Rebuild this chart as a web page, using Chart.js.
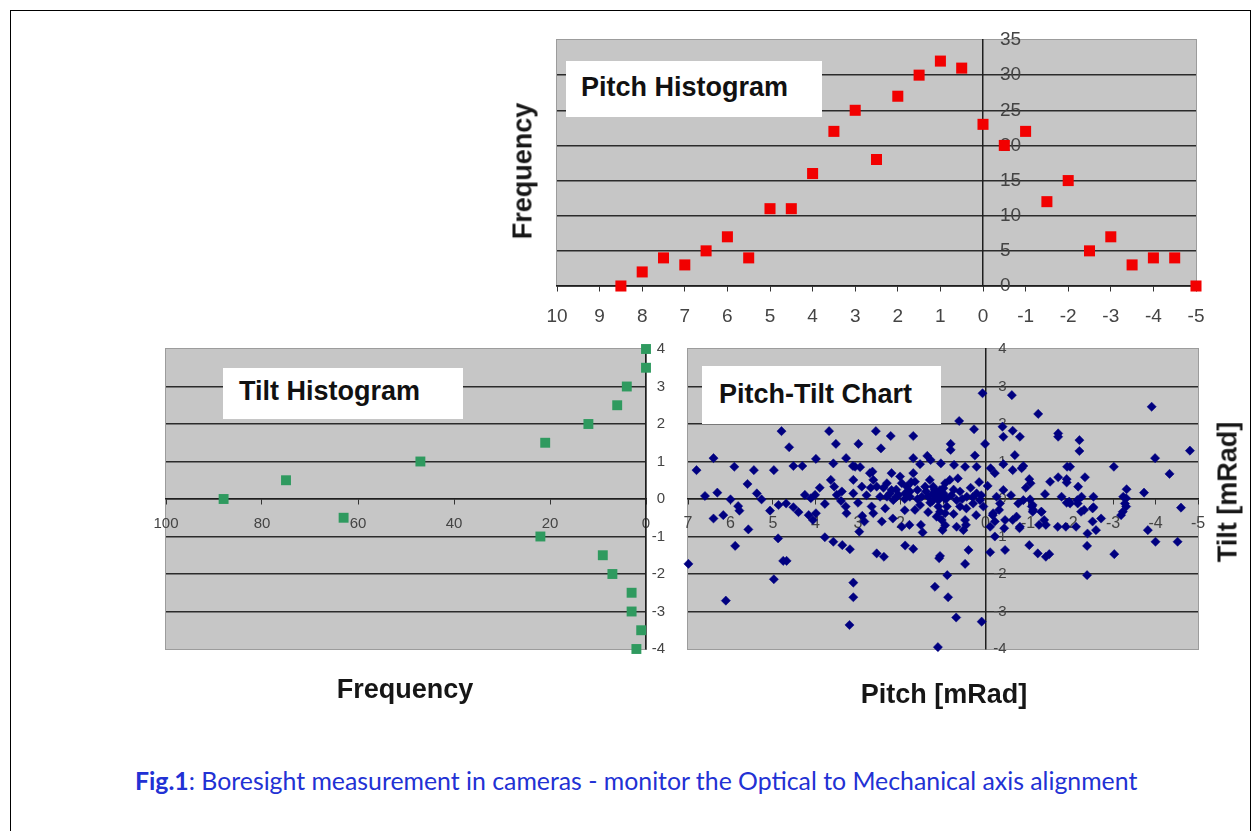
<!DOCTYPE html>
<html>
<head>
<meta charset="utf-8">
<script src="https://cdn.jsdelivr.net/npm/chart.js@4.4.1/dist/chart.umd.min.js"></script>
<style>
    html, body { margin: 0; padding: 0; background: #fff; }
    body { width: 1260px; height: 831px; position: relative; overflow: hidden; font-family: "Liberation Sans", Arial, sans-serif; }
    #frame { position: absolute; left: 10px; top: 10px; width: 1241px; height: 830px; border: 1px solid #000; border-bottom: none; box-sizing: border-box; }
    canvas { position: absolute; }
    .box { position: absolute; box-sizing: border-box; background: #fff; font-weight: bold; font-size: 27px; color: #111; white-space: nowrap; z-index: 2; }
    .axisTitle { position: absolute; font-weight: bold; font-size: 27px; color: #161616; white-space: nowrap; transform: translate(-50%, -50%); z-index: 2; }
    .axisTitle.vertical { transform: translate(-50%, -50%) rotate(-90deg); }
    #caption { position: absolute; left: 135px; top: 760px; height: 40px; display: flex; align-items: center; font-family: Lato, "Noto Sans", sans-serif; font-size: 20px; color: #2231d4; white-space: nowrap; z-index: 2; }
</style>
</head>
<body>
<div id="frame"></div>

<canvas id="pitchChart" width="699" height="311" style="left:527px; top:20px;"></canvas>
<canvas id="tiltChart" width="540" height="365" style="left:136px; top:329px;"></canvas>
<canvas id="pitchTiltChart" width="570" height="365" style="left:658px; top:329px;"></canvas>

<div class="box" style="left:566px; top:61px; width:256px; height:56px; line-height:52px; padding-left:15px;">Pitch Histogram</div>
<div class="box" style="left:223px; top:368px; width:240px; height:51px; line-height:46px; padding-left:16px;">Tilt Histogram</div>
<div class="box" style="left:702px; top:366px; width:239px; height:58px; line-height:56px; padding-left:17px;">Pitch-Tilt Chart</div>

<div class="axisTitle vertical" style="left:523px; top:171px;">Frequency</div>
<div class="axisTitle" style="left:405px; top:689px;">Frequency</div>
<div class="axisTitle" style="left:944px; top:694px;">Pitch [mRad]</div>
<div class="axisTitle vertical" style="left:1228px; top:492px;">Tilt [mRad]</div>

<div id="caption"><span><b>Fig.1</b>: Boresight measurement in cameras - monitor the Optical to Mechanical axis alignment</span></div>

<script>
// Pitch histogram
const pitchBins = [8.5, 8, 7.5, 7, 6.5, 6, 5.5, 5, 4.5, 4, 3.5, 3, 2.5, 2, 1.5, 1, 0.5, 0, -0.5, -1, -1.5, -2, -2.5, -3, -3.5, -4, -4.5, -5];
const pitchCounts = [0, 2, 4, 3, 5, 7, 4, 11, 11, 16, 22, 25, 18, 27, 30, 32, 31, 23, 20, 22, 12, 15, 5, 7, 3, 4, 4, 0];
const pitchAxisTicks = [10, 9, 8, 7, 6, 5, 4, 3, 2, 1, 0, -1, -2, -3, -4, -5];
const pitchFreqTicks = [0, 5, 10, 15, 20, 25, 30, 35];

// Tilt histogram
const tiltBins = [4, 3.5, 3, 2.5, 2, 1.5, 1, 0.5, 0, -0.5, -1, -1.5, -2, -2.5, -3, -3.5, -4];
const tiltCounts = [0, 0, 4, 6, 12, 21, 47, 75, 88, 63, 22, 9, 7, 3, 3, 1, 2];
const tiltFreqTicks = [100, 80, 60, 40, 20, 0];
const tiltAxisTicks = [4, 3, 2, 1, 0, -1, -2, -3, -4];

// Pitch-Tilt scatter (mRad)
const scatterPitch = [
    0.07, 0.62, 0.27, 0.01, 4.80, 4.62, 3.68, 3.52, 2.99, 2.58,
    2.23, 1.70, 2.46, 0.82, 0.82, 6.40, 6.80, 5.91, 5.45, 4.98,
    4.52, 4.31, 3.99, 3.58, 3.28, 3.07, 2.95, 2.66, 2.21, 2.01,
    1.70, 1.54, 1.37, 1.29, 1.05, 0.74, 0.48, 0.25, 0.21, -0.12,
    -0.22, 6.60, 6.31, 6.00, 5.82, 5.79, 5.38, 5.27, 5.07, 4.87,
    4.69, 4.52, 4.25, 4.11, 4.01, 4.16, 4.06, 3.99, 3.78, 3.64,
    3.56, 3.50, 3.38, 3.29, 3.27, 3.11, 3.11, 3.12, 2.91, 2.72,
    2.64, 2.56, 2.68, 2.64, 2.48, 2.44, 2.36, 2.32, 2.21, 2.17,
    2.05, 1.97, 1.85, 1.89, 1.78, 1.70, 1.66, 1.60, 1.79, 1.97,
    1.66, 1.54, 1.42, 1.35, 1.31, 1.23, 1.15, 1.11, 1.07, 1.03,
    0.99, 0.91, 0.95, 0.84, 0.91, 0.68, 0.60, 0.44, 0.29, 0.21,
    0.13, 0.05, 0.68, 0.52, 0.48, -0.11, -0.22, -0.46, -0.11, 0.40,
    0.48, 1.07, 5.89, 6.17, 6.40, 5.58, 4.88, 4.76, 4.68, 4.98,
    6.99, 6.11, 3.78, 3.58, 3.37, 3.19, 2.56, 2.39, 3.11, 3.11,
    3.20, 1.12, 1.19, 0.90, 0.88, 0.69, 0.09, 1.89, 1.70, 1.09,
    1.48, 1.01, 0.46, 0.22, -0.17, -0.32, -0.44, -0.64, -0.80, 2.97,
    2.85, 2.18, 1.52, -4.60, -3.82, -4.00, -4.52, -3.03, -2.39, -2.39,
    -2.40, -2.60, -2.52, -2.72, -3.23, -3.31, -3.19, -3.31, -1.70, -1.89,
    -2.13, -1.97, -2.17, -2.25, -2.32, -2.52, -1.11, -1.11, -1.31, -1.38,
    -1.42, -1.26, -1.03, -1.23, -1.42, -1.50, -0.62, -1.24, -3.91, -4.81,
    -3.99, -4.33, -3.02, -3.73, -0.42, -0.64, -0.81, -1.71, -1.71, -2.21,
    -2.21, -0.69, -0.42, -0.64, -0.85, -0.89, -1.03, -1.06, -1.92, -1.99,
    -1.52, -1.71, -1.91, -1.91, -2.34, -2.18, -1.40, -1.79, -1.91, -1.99,
    -2.16, -2.26, -2.54, -2.54, -3.24, -3.32, -3.28, -0.77, -0.89, -1.05,
    -1.09, -1.12, -1.32, -0.42, -0.26, -0.34, -0.18, -0.22, -0.46, -0.73,
    -0.81, 1.23, 1.15, 1.07, 0.99, 1.11, 0.95, 1.15, 1.50, 1.78,
    2.09, 2.32, 0.80, 0.60, 0.35, 0.15, 1.30, 0.75, 2.80, 3.00,
    -0.40, 1.20, 1.05, 0.95, 1.25, 1.40, 1.60, 1.90, 2.10, 2.25,
    2.40, 0.30, 0.10, 0.55, 0.45, 0.75, 1.90, 2.70, 3.40, 3.90,
    4.40, 5.60, 0.95, 1.35, 1.75, 2.90, -0.05, -0.60, -0.95, 0.65
];
const scatterTilt = [
    2.82, 2.08, 1.86, 1.47, 1.81, 1.38, 1.81, 1.47, 1.47, 1.81,
    1.68, 1.68, 1.35, 1.47, 1.31, 1.09, 0.77, 0.86, 0.77, 0.77,
    0.88, 0.88, 1.07, 0.95, 1.09, 0.86, 0.85, 0.73, 0.69, 0.60,
    1.09, 0.93, 1.15, 1.04, 0.95, 0.91, 0.86, 1.16, 0.86, 0.82,
    0.69, 0.08, 0.17, -0.01, -0.19, -0.31, 0.15, -0.01, -0.31, -0.16,
    -0.12, -0.22, 0.11, 0.02, 0.11, -0.43, -0.56, -0.38, -0.13, 0.51,
    0.33, 0.11, 0.20, -0.20, -0.38, 0.15, 0.51, 0.88, 0.33, 0.69,
    0.51, 0.33, -0.20, -0.38, 0.06, -0.60, -0.25, 0.42, 0.24, -0.03,
    0.11, 0.42, 0.33, 0.15, 0.06, 0.69, 0.46, 0.24, -0.69, -0.74,
    -0.29, -0.16, 0.33, 0.06, 0.51, 0.33, 0.20, -0.03, -0.34, -0.56,
    0.15, 0.02, 0.42, 0.51, -0.20, -0.03, -0.20, 0.06, -0.12, 0.15,
    -0.03, -0.20, -0.74, -0.83, -0.56, -0.74, -1.00, -1.36, -1.42, -1.36,
    -1.73, -1.52, -1.25, -0.43, -0.52, -0.81, -1.05, -1.65, -1.65, -2.14,
    -1.73, -2.71, -1.02, -1.14, -1.23, -1.34, -1.45, -1.54, -2.23, -2.62,
    -3.36, -3.95, -2.34, -2.03, -2.62, -3.16, -3.27, -1.24, -1.33, -1.58,
    -0.89, -0.83, -0.69, -0.43, -0.43, -0.29, -0.78, -0.56, -0.78, -0.87,
    -0.60, -0.52, -0.69, -0.23, -0.83, -1.14, -1.14, -1.47, -2.03, -1.25,
    -0.92, -0.83, -0.60, -0.52, -0.34, -0.20, -0.43, 0.02, -0.74, -0.74,
    -0.74, -0.07, -0.12, -0.34, -0.29, -0.25, -0.16, -0.34, -0.34, -0.56,
    -0.69, -0.69, -1.23, -1.45, -1.54, -1.47, 2.77, 2.27, 2.46, 1.29,
    1.09, 0.67, 0.86, 0.17, 1.66, 1.82, 1.66, 1.75, 1.66, 1.57,
    1.28, 1.17, 0.93, 0.77, 0.82, 0.88, 0.53, 0.42, 0.86, 0.86,
    0.46, 0.58, 0.53, 0.44, 0.58, 0.33, 0.13, 0.06, -0.10, -0.12,
    -0.03, 0.06, 0.06, -0.22, 0.06, 0.26, -0.12, -0.12, -0.03, -0.01,
    -0.20, -0.29, -0.34, 0.24, 0.06, -0.12, -0.38, -0.60, -0.56, -0.47,
    -0.74, 0.15, 0.06, 0.24, 0.29, -0.20, -0.38, -0.47, 0.06, 0.20,
    0.06, 0.06, 0.10, 0.20, 0.30, 0.45, -0.10, -0.40, 0.10, -0.10,
    1.93, 0.25, 0.10, 0.00, -0.05, 0.20, 0.00, 0.00, 0.25, 0.15,
    0.30, 0.05, 0.10, 0.00, -0.25, 0.25, -0.30, 0.30, -0.05, 0.30,
    -0.35, 0.40, -0.70, -0.35, 0.45, -0.45, 0.35, 0.10, 0.30, 0.55
];
const scatterPitchTicks = [7, 6, 5, 4, 3, 2, 1, 0, -1, -2, -3, -4, -5];

const TICK_FONT = 'Liberation Sans';
const TICK_COLOR = '#444';

// gray plot area like the old Excel charts
const plotBackground = {
    id: 'plotBackground',
    beforeDraw(chart, args, opts) {
        const { ctx, chartArea: { left, top, width, height } } = chart;
        ctx.save();
        ctx.fillStyle = '#c6c6c6';
        ctx.fillRect(left, top, width, height);
        ctx.strokeStyle = '#9c9c9c';
        ctx.lineWidth = 1;
        ctx.strokeRect(left - 0.5, top - 0.5, width + 1, height + 1);
        ctx.restore();
    }
};

// value labels of the vertical axis, which crosses the chart at x = 0
const crossAxisLabels = {
    id: 'crossAxisLabels',
    beforeDatasetsDraw(chart, args, opts) {
        if (!opts.size) return;
        const { ctx, scales: { x, y } } = chart;
        const axisX = x.getPixelForValue(0);
        ctx.save();
        ctx.font = opts.size + 'px "' + TICK_FONT + '"';
        ctx.fillStyle = TICK_COLOR;
        ctx.textAlign = opts.align;
        ctx.textBaseline = 'middle';
        y.ticks.forEach(t => {
            ctx.fillText(String(t.value), axisX + opts.offset, y.getPixelForValue(t.value));
        });
        ctx.restore();
    }
};

Chart.register(plotBackground, crossAxisLabels);

function xAxis(min, max, ticks, fontSize, pad) {
    return {
        type: 'linear',
        reverse: true,
        min: min,
        max: max,
        position: { y: 0 },
        afterBuildTicks: scale => { scale.ticks = ticks.map(v => ({ value: v })); },
        grid: { drawOnChartArea: false, color: '#333', tickLength: 5, lineWidth: 1 },
        border: { color: '#1e1e1e', width: 1.5 },
        ticks: {
            autoSkip: false,
            maxRotation: 0,
            padding: pad,
            color: TICK_COLOR,
            font: { family: TICK_FONT, size: fontSize }
        }
    };
}

function yAxis(min, max, ticks) {
    return {
        type: 'linear',
        min: min,
        max: max,
        position: { x: 0 },
        afterBuildTicks: scale => { scale.ticks = ticks.map(v => ({ value: v })); },
        grid: {
            drawTicks: false,
            lineWidth: 1.5,
            color: c => (c.tick.value === max || (min < 0 && c.tick.value === min)) ? 'rgba(0,0,0,0)' : '#2b2b2b'
        },
        border: { color: '#1e1e1e', width: 1.5 },
        ticks: { display: false }
    };
}

const baseOptions = {
    responsive: false,
    animation: false,
    devicePixelRatio: 1,
    events: [],
    layout: { padding: { left: 30, right: 30, top: 20, bottom: 45 } }
};

document.addEventListener('DOMContentLoaded', function() {
    fitCaption();
    initializePitchChart();
    initializeTiltChart();
    initializePitchTiltChart();
});

function fitCaption() {
    const cap = document.querySelector('#caption span');
    const w = cap.getBoundingClientRect().width;
    if (w > 0) {
        document.getElementById('caption').style.fontSize = (20 * 1003 / w) + 'px';
    }
}

function initializePitchChart() {
    const ctx = document.getElementById('pitchChart');
    new Chart(ctx, {
        type: 'scatter',
        data: {
            datasets: [{
                label: 'Pitch Histogram',
                data: pitchBins.map((b, i) => ({ x: b, y: pitchCounts[i] })),
                pointStyle: 'rect',
                pointRadius: 7.8,
                backgroundColor: '#f20000',
                borderColor: '#f20000',
                borderWidth: 0,
                clip: false
            }]
        },
        options: {
            ...baseOptions,
            plugins: {
                legend: { display: false },
                tooltip: { enabled: false },
                crossAxisLabels: { size: 19, align: 'left', offset: 17 }
            },
            scales: {
                x: xAxis(-5, 10, pitchAxisTicks, 19, 14),
                y: yAxis(0, 35, pitchFreqTicks)
            }
        }
    });
}

function initializeTiltChart() {
    const ctx = document.getElementById('tiltChart');
    new Chart(ctx, {
        type: 'scatter',
        data: {
            datasets: [{
                label: 'Tilt Histogram',
                data: tiltBins.map((b, i) => ({ x: tiltCounts[i], y: b })),
                pointStyle: 'rect',
                pointRadius: 7,
                backgroundColor: '#2f9a5f',
                borderColor: '#2f9a5f',
                borderWidth: 0,
                clip: false
            }]
        },
        options: {
            ...baseOptions,
            plugins: {
                legend: { display: false },
                tooltip: { enabled: false },
                crossAxisLabels: { size: 15, align: 'right', offset: 19 }
            },
            scales: {
                x: xAxis(0, 100, tiltFreqTicks, 15, 11),
                y: yAxis(-4, 4, tiltAxisTicks)
            }
        }
    });
}

function initializePitchTiltChart() {
    const ctx = document.getElementById('pitchTiltChart');
    new Chart(ctx, {
        type: 'scatter',
        data: {
            datasets: [{
                label: 'Pitch-Tilt',
                data: scatterPitch.map((p, i) => ({ x: p, y: scatterTilt[i] })),
                pointStyle: 'rectRot',
                pointRadius: 4.6,
                backgroundColor: '#000080',
                borderColor: '#000080',
                borderWidth: 0.5,
                clip: false
            }]
        },
        options: {
            ...baseOptions,
            plugins: {
                legend: { display: false },
                tooltip: { enabled: false },
                crossAxisLabels: { size: 15, align: 'right', offset: 21 }
            },
            scales: {
                x: xAxis(-5, 7, scatterPitchTicks, 16, 10),
                y: yAxis(-4, 4, tiltAxisTicks)
            }
        }
    });
}
</script>
</body>
</html>
